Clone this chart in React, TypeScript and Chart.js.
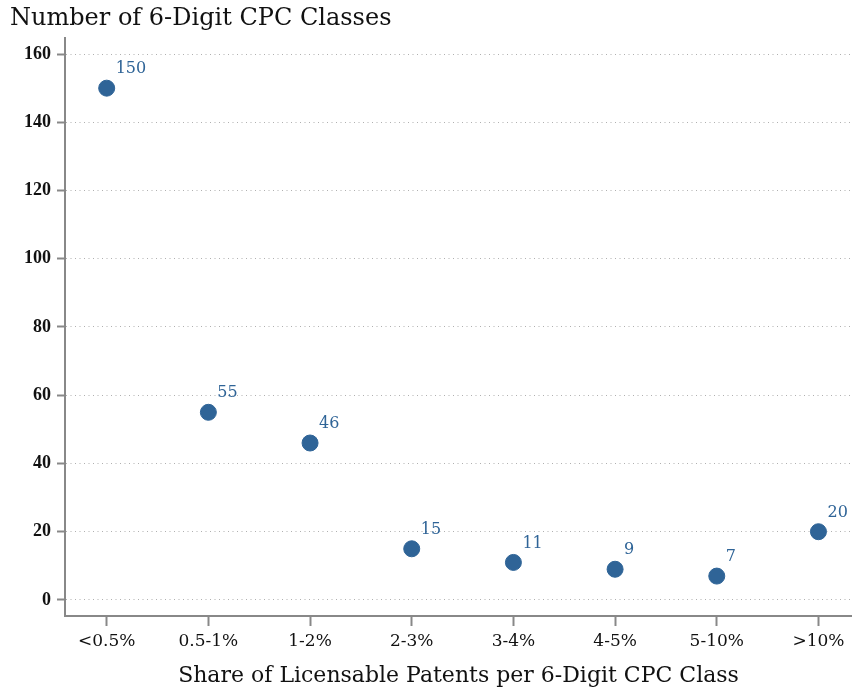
import React, { useEffect, useRef } from "react";
import { Chart, registerables } from "chart.js";

Chart.register(...registerables);

const categories = ["<0.5%", "0.5-1%", "1-2%", "2-3%", "3-4%", "4-5%", "5-10%", ">10%"];
const counts = [150, 55, 46, 15, 11, 9, 7, 20];
const yTitle = "Number of 6-Digit CPC Classes";
const xTitle = "Share of Licensable Patents per 6-Digit CPC Class";

const SERIF = "'DejaVu Serif', serif";
const TIMES = "'Liberation Serif', serif";
const BLUE = "#2f6497";

export default function App() {
  const ref = useRef<HTMLCanvasElement | null>(null);
  useEffect(() => {
    document.body.style.margin = "0";
    const canvas = ref.current!;
    const labelsPlugin = {
      id: "customText",
      afterDatasetsDraw(chart: any) {
        const ctx = chart.ctx;
        const meta = chart.getDatasetMeta(0);
        ctx.save();
        ctx.fillStyle = BLUE;
        ctx.font = `16px ${SERIF}`;
        ctx.textAlign = "left";
        ctx.textBaseline = "middle";
        meta.data.forEach((pt: any, i: number) => {
          ctx.fillText(String(counts[i]), pt.x + 9, pt.y - 19);
        });
        ctx.restore();
      },
      afterDraw(chart: any) {
        const ctx = chart.ctx;
        const area = chart.chartArea;
        ctx.save();
        ctx.fillStyle = "#111";
        ctx.textBaseline = "alphabetic";
        ctx.font = `24px ${SERIF}`;
        ctx.textAlign = "left";
        ctx.fillText(yTitle, 10, 25);
        ctx.font = `22px ${SERIF}`;
        ctx.textAlign = "center";
        ctx.fillText(xTitle, (area.left + area.right) / 2, 682);
        ctx.restore();
      },
    };
    const chart = new Chart(canvas, {
      type: "scatter",
      data: {
        datasets: [
          {
            data: counts.map((v, i) => ({ x: i, y: v })),
            backgroundColor: BLUE,
            borderColor: BLUE,
            pointRadius: 8,
            pointHoverRadius: 8,
            clip: false,
          },
        ],
      },
      options: {
        animation: false,
        responsive: false,
        layout: { autoPadding: false, padding: { top: 38, left: 0, right: 0, bottom: 0 } },
        plugins: {
          legend: { display: false },
          tooltip: { enabled: false },
          title: { display: false },
        },
        scales: {
          x: {
            type: "linear",
            min: -0.41,
            max: 7.33,
            afterFit: (s: any) => {
              s.height = 77;
            },
            border: { display: true, color: "#888", width: 2 },
            grid: {
              display: true,
              drawOnChartArea: false,
              drawTicks: true,
              tickLength: 10,
              tickColor: "#888",
              tickWidth: 2,
            },
            ticks: {
              stepSize: 1,
              includeBounds: false,
              autoSkip: false,
              maxRotation: 0,
              padding: 5,
              color: "#111",
              font: { family: SERIF, size: 17 },
              callback: (v: any) => {
                const i = Math.round(Number(v));
                return Math.abs(Number(v) - i) < 1e-6 && i >= 0 && i < categories.length ? categories[i] : "";
              },
            },
          },
          y: {
            type: "linear",
            min: -4.7,
            max: 164.7,
            afterFit: (s: any) => {
              s.width = 65;
            },
            border: { display: true, color: "#888", width: 2, dash: [1, 3.5] },
            grid: {
              display: true,
              color: "#b0b0b0",
              lineWidth: 1,
              drawTicks: true,
              tickLength: 8,
              tickColor: "#888",
              tickWidth: 2,
              tickBorderDash: [],
            },
            ticks: {
              stepSize: 20,
              includeBounds: false,
              padding: 6,
              color: "#111",
              font: { family: TIMES, size: 18, weight: "bold" },
            },
          },
        },
      },
      plugins: [labelsPlugin],
    });
    return () => chart.destroy();
  }, []);
  return <canvas ref={ref} width={852} height={693} style={{ display: "block" }} />;
}
